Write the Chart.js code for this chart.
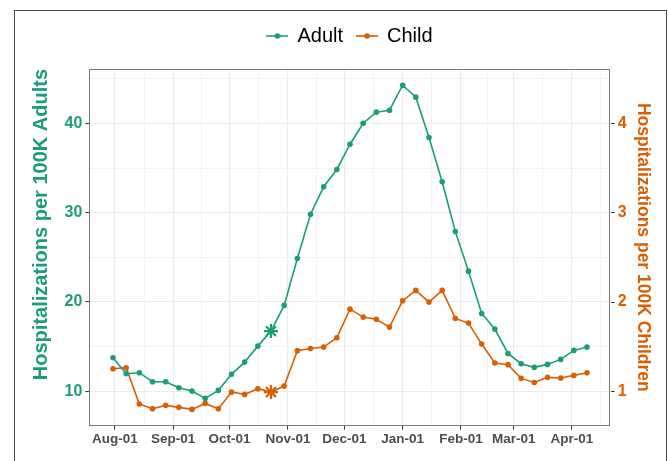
<!DOCTYPE html>
<html>
<head>
<meta charset="utf-8">
<script src="https://cdn.jsdelivr.net/npm/chart.js@4.4.1/dist/chart.umd.min.js"></script>
<style>
  html, body { margin: 0; padding: 0; background: #ffffff; }
  #wrap { position: relative; width: 669px; height: 461px; overflow: hidden; }
  #frame {
    position: absolute; left: 14px; top: 10px; width: 651px; height: 470px;
    border: 1.5px solid #4a4a4a; pointer-events: none;
  }
  canvas { display: block; }
</style>
</head>
<body>
<div id="wrap">
  <canvas id="chart" width="669" height="461"></canvas>
  <div id="frame"></div>
</div>
<script>
// Weekly hospitalization rates (week ending date)
const weeks = [
  '2021-07-31', '2021-08-07', '2021-08-14', '2021-08-21', '2021-08-28',
  '2021-09-04', '2021-09-11', '2021-09-18', '2021-09-25',
  '2021-10-02', '2021-10-09', '2021-10-16', '2021-10-23', '2021-10-30',
  '2021-11-06', '2021-11-13', '2021-11-20', '2021-11-27',
  '2021-12-04', '2021-12-11', '2021-12-18', '2021-12-25',
  '2022-01-01', '2022-01-08', '2022-01-15', '2022-01-22', '2022-01-29',
  '2022-02-05', '2022-02-12', '2022-02-19', '2022-02-26',
  '2022-03-05', '2022-03-12', '2022-03-19', '2022-03-26',
  '2022-04-02', '2022-04-09'
];

// Hospitalizations per 100K adults
const adultRate = [
  13.76, 11.97, 12.08, 11.07, 11.07, 10.40, 10.02, 9.20, 10.10,
  11.90, 13.27, 15.06, 16.74, 19.62, 24.88, 29.84, 32.91, 34.85,
  37.68, 40.03, 41.27, 41.49, 44.29, 42.95, 38.43, 33.47, 27.90,
  23.46, 18.72, 16.97, 14.24, 13.09, 12.68, 13.01, 13.57, 14.58, 14.95
];

// Hospitalizations per 100K children
const childRate = [
  1.253, 1.264, 0.857, 0.805, 0.842, 0.820, 0.797, 0.864, 0.805,
  0.991, 0.965, 1.029, 0.991, 1.058, 1.455, 1.480, 1.495, 1.600,
  1.920, 1.831, 1.807, 1.719, 2.015, 2.130, 1.999, 2.130, 1.816,
  1.764, 1.529, 1.316, 1.298, 1.144, 1.099, 1.156, 1.148, 1.178, 1.208
];

// Week flagged with an asterisk on both series
const flaggedWeek = '2021-10-23';

// Axis breaks
const monthBreaks = [
  '2021-08-01', '2021-09-01', '2021-10-01', '2021-11-01', '2021-12-01',
  '2022-01-01', '2022-02-01', '2022-03-01', '2022-04-01'
];
const adultBreaks = [10, 20, 30, 40];
const childBreaks = [1, 2, 3, 4];
const childToAdult = 10; // secondary axis: children rate x 10 on the primary scale

const MONTHS = ['Jan','Feb','Mar','Apr','May','Jun','Jul','Aug','Sep','Oct','Nov','Dec'];
const ADULT_COLOR = '#1B9E77';
const CHILD_COLOR = '#D95F02';
const FONT = '"Liberation Sans", Arial, Helvetica, sans-serif';

const dayOf = s => Date.UTC(+s.slice(0, 4), +s.slice(5, 7) - 1, +s.slice(8, 10)) / 86400000;
const xs = weeks.map(dayOf);
const flaggedIndex = weeks.indexOf(flaggedWeek);

// 5% expansion on both sides, as in the source plot
const expand = (lo, hi) => { const d = (hi - lo) * 0.05; return [lo - d, hi + d]; };
const [xMin, xMax] = expand(Math.min(...xs), Math.max(...xs));
const allPrimary = adultRate.concat(childRate.map(v => v * childToAdult));
const [yMin, yMax] = expand(Math.min(...allPrimary), Math.max(...allPrimary));

// Major ticks at month starts, minor grid halfway between
const monthDays = monthBreaks.map(dayOf);
const majorX = new Set(monthDays);
const minorX = [];
for (let i = 0; i < monthDays.length; i++) {
  const next = i + 1 < monthDays.length ? monthDays[i + 1] : monthDays[i] + 30;
  const prev = i > 0 ? monthDays[i - 1] : monthDays[i] - 31;
  if (i === 0) minorX.push((prev + monthDays[i]) / 2);
  minorX.push((monthDays[i] + next) / 2);
}
const xTickValues = monthDays.concat(minorX).filter(v => v >= xMin && v <= xMax).sort((a, b) => a - b);
const xLabel = v => {
  if (!majorX.has(v)) return '';
  const d = new Date(v * 86400000);
  return MONTHS[d.getUTCMonth()] + '-' + String(d.getUTCDate()).padStart(2, '0');
};

const yTickValues = [];
for (let v = 5; v <= 50; v += 5) if (v >= yMin && v <= yMax) yTickValues.push(v);
const majorY = new Set(adultBreaks);

// Legend key: short line with a dot
function legendKey(color) {
  const c = document.createElement('canvas');
  c.width = 22; c.height = 10;
  const g = c.getContext('2d');
  g.strokeStyle = color; g.lineWidth = 1.6;
  g.beginPath(); g.moveTo(0, 5); g.lineTo(22, 5); g.stroke();
  g.fillStyle = color;
  g.beginPath(); g.arc(11, 5, 2.8, 0, Math.PI * 2); g.fill();
  return c;
}
const legendKeys = [legendKey(ADULT_COLOR), legendKey(CHILD_COLOR)];

// Panel border around the plotting area
const panelBorder = {
  id: 'panelBorder',
  afterDatasetsDraw(chart) {
    const { ctx, chartArea: a } = chart;
    ctx.save();
    ctx.strokeStyle = '#7a7a7a';
    ctx.lineWidth = 1;
    ctx.strokeRect(Math.round(a.left) + 0.5, Math.round(a.top) + 0.5,
                   Math.round(a.right - a.left) - 1, Math.round(a.bottom - a.top) - 1);
    ctx.restore();
  }
};

const pointStyleFor = ctx => ctx.dataIndex === flaggedIndex ? 'star' : 'circle';
const radiusFor = ctx => ctx.dataIndex === flaggedIndex ? 7 : 2.8;
const borderFor = ctx => ctx.dataIndex === flaggedIndex ? 2.2 : 0;

const PLOT_LEFT = 89.3, PLOT_RIGHT = 610.7, PLOT_TOP = 70, PLOT_BOTTOM = 425.6;
const PAD_LEFT = 14, PAD_RIGHT = 2, PAD_TOP = 12;
const LEGEND_HEIGHT = 45;

new Chart(document.getElementById('chart'), {
  type: 'line',
  data: {
    datasets: [
      {
        label: 'Adult',
        data: xs.map((x, i) => ({ x, y: adultRate[i] })),
        yAxisID: 'y',
        borderColor: ADULT_COLOR,
        backgroundColor: ADULT_COLOR,
        pointBackgroundColor: ADULT_COLOR,
        pointBorderColor: ADULT_COLOR,
        borderWidth: 1.6,
        pointStyle: pointStyleFor,
        pointRadius: radiusFor,
        pointBorderWidth: borderFor,
        tension: 0
      },
      {
        label: 'Child',
        data: xs.map((x, i) => ({ x, y: childRate[i] })),
        yAxisID: 'y1',
        borderColor: CHILD_COLOR,
        backgroundColor: CHILD_COLOR,
        pointBackgroundColor: CHILD_COLOR,
        pointBorderColor: CHILD_COLOR,
        borderWidth: 1.6,
        pointStyle: pointStyleFor,
        pointRadius: radiusFor,
        pointBorderWidth: borderFor,
        tension: 0
      }
    ]
  },
  options: {
    responsive: false,
    animation: false,
    devicePixelRatio: 1,
    layout: { padding: { top: PAD_TOP, left: PAD_LEFT, right: PAD_RIGHT, bottom: 0 } },
    plugins: {
      tooltip: { enabled: false },
      legend: {
        position: 'top',
        align: 'center',
        fullSize: false,
        labels: {
          usePointStyle: true,
          boxWidth: 20,
          padding: 14,
          color: '#000000',
          font: { family: FONT, size: 20 },
          generateLabels: chart => chart.data.datasets.map((ds, i) => ({
            text: ds.label,
            pointStyle: legendKeys[i],
            fillStyle: ds.borderColor,
            strokeStyle: ds.borderColor,
            lineWidth: 0,
            hidden: false,
            datasetIndex: i,
            fontColor: '#000000'
          }))
        }
      }
    },
    scales: {
      x: {
        type: 'linear',
        min: xMin,
        max: xMax,
        afterBuildTicks: s => { s.ticks = xTickValues.map(v => ({ value: v })); },
        afterFit: s => { s.height = 461 - PLOT_BOTTOM; },
        ticks: {
          autoSkip: false,
          maxRotation: 0,
          padding: 2,
          color: '#4D4D4D',
          font: { family: FONT, size: 13.5, weight: 'bold' },
          callback: v => xLabel(v)
        },
        grid: {
          color: '#EBEBEB',
          lineWidth: c => (c.tick && majorX.has(c.tick.value)) ? 1.1 : 0.6,
          tickColor: c => (c.tick && majorX.has(c.tick.value)) ? '#333333' : 'rgba(0,0,0,0)',
          tickWidth: 1,
          tickLength: 4
        },
        border: { display: false }
      },
      // empty band between the legend and the panel
      gap: {
        type: 'linear',
        position: 'top',
        min: xMin,
        max: xMax,
        ticks: { display: false },
        grid: { display: false, drawTicks: false },
        border: { display: false },
        afterFit: s => { s.height = PLOT_TOP - PAD_TOP - LEGEND_HEIGHT; }
      },
      y: {
        type: 'linear',
        position: 'left',
        min: yMin,
        max: yMax,
        afterBuildTicks: s => { s.ticks = yTickValues.map(v => ({ value: v })); },
        afterFit: s => { s.width = PLOT_LEFT - PAD_LEFT; },
        ticks: {
          padding: 3,
          color: ADULT_COLOR,
          font: { family: FONT, size: 16, weight: 'bold' },
          callback: v => majorY.has(v) ? String(v) : ''
        },
        grid: {
          color: '#EBEBEB',
          lineWidth: c => (c.tick && majorY.has(c.tick.value)) ? 1.1 : 0.6,
          tickColor: c => (c.tick && majorY.has(c.tick.value)) ? '#333333' : 'rgba(0,0,0,0)',
          tickWidth: 1,
          tickLength: 4
        },
        border: { display: false },
        title: {
          display: true,
          text: 'Hospitalizations per 100K Adults',
          align: 'end',
          color: ADULT_COLOR,
          font: { family: FONT, size: 20, weight: 'bold' },
          padding: { top: 15, bottom: 0 }
        }
      },
      y1: {
        type: 'linear',
        position: 'right',
        min: yMin / childToAdult,
        max: yMax / childToAdult,
        afterBuildTicks: s => { s.ticks = childBreaks.map(v => ({ value: v })); },
        afterFit: s => { s.width = 669 - PAD_RIGHT - PLOT_RIGHT; },
        ticks: {
          padding: 3,
          color: CHILD_COLOR,
          font: { family: FONT, size: 16, weight: 'bold' },
          callback: v => String(v)
        },
        grid: {
          drawOnChartArea: false,
          tickColor: '#333333',
          tickWidth: 1,
          tickLength: 4
        },
        border: { display: false },
        title: {
          display: true,
          text: 'Hospitalizations per 100K Children',
          color: CHILD_COLOR,
          font: { family: FONT, size: 17.5, weight: 'bold' },
          padding: { top: 14, bottom: 0 }
        }
      }
    }
  },
  plugins: [panelBorder]
});
</script>
</body>
</html>
